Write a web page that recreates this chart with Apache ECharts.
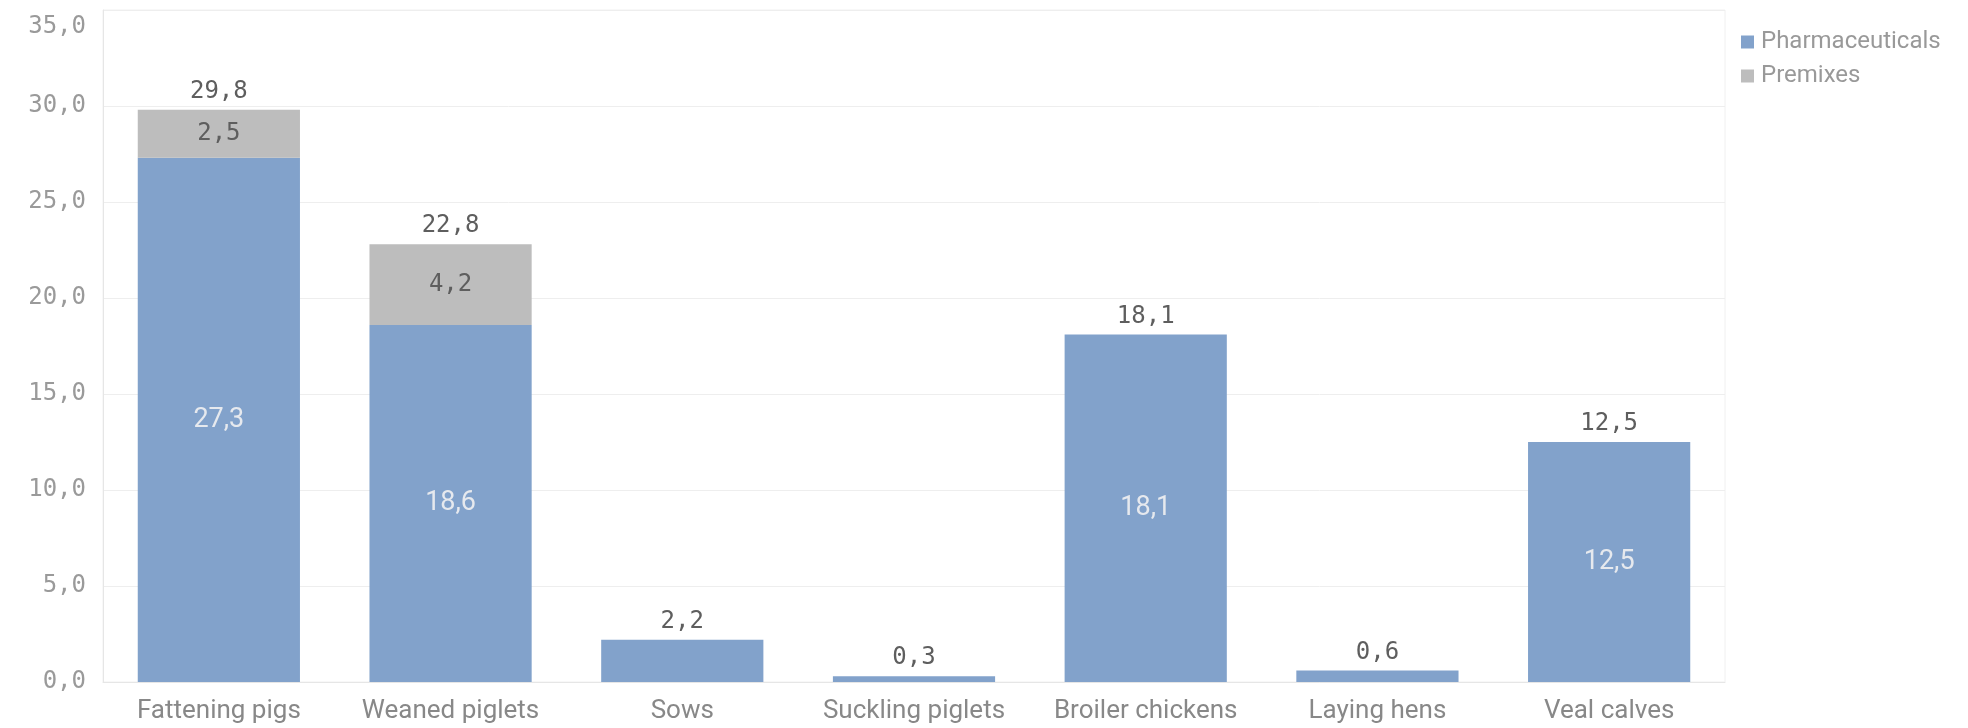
<!DOCTYPE html>
<html>
<head>
<meta charset="utf-8">
<script src="https://cdn.jsdelivr.net/npm/echarts@6/dist/echarts.min.js"></script>
<style>
  html, body { margin: 0; padding: 0; background: #fff; }
  #main { width: 1968px; height: 728px; }
</style>
</head>
<body>
<div id="main"></div>
<script>
var categories = ["Fattening pigs", "Weaned piglets", "Sows", "Suckling piglets", "Broiler chickens", "Laying hens", "Veal calves"];
var pharmaceuticals = [27.3, 18.6, 2.2, 0.3, 18.1, 0.6, 12.5];
var premixes = [2.5, 4.2, 0, 0, 0, 0, 0];
var totals = [29.8, 22.8, 2.2, 0.3, 18.1, 0.6, 12.5];

var numFont = "DejaVu Sans Mono";
var textFont = "Roboto";
var yMax = 35;

function fmt(v) {
  return v.toFixed(1).replace(".", ",");
}

var myChart = echarts.init(document.getElementById("main"));

var option = {
  animation: false,
  grid: {
    left: 103, right: 243, top: 10, bottom: 46,
    show: true, borderColor: "#f0f0f0", borderWidth: 1
  },
  legend: {
    data: ["Pharmaceuticals", "Premixes"],
    orient: "vertical",
    left: 1736, top: 25,
    itemWidth: 13, itemHeight: 13, itemGap: 10,
    icon: "rect",
    textStyle: { fontFamily: textFont, fontSize: 24, color: "#999999", padding: [0, 0, 0, 2] }
  },
  xAxis: {
    type: "category",
    data: categories,
    axisLine: { lineStyle: { color: "#e6e6e6" } },
    axisTick: { show: false },
    axisLabel: { fontFamily: textFont, fontSize: 26, color: "#888888", margin: 16, interval: 0 }
  },
  yAxis: {
    type: "value",
    min: 0, max: yMax, interval: 5,
    axisLine: { show: true, lineStyle: { color: "#e6e6e6" } },
    splitLine: { lineStyle: { color: "#eeeeee" } },
    axisLabel: {
      fontFamily: numFont, fontSize: 24, color: "#9a9a9a", margin: 17,
      formatter: function (v) {
        // top label sits just inside the plot, like the original
        return v === yMax ? "{t|" + fmt(v) + "}" : fmt(v);
      },
      rich: {
        t: { fontFamily: numFont, fontSize: 24, color: "#9a9a9a", padding: [34, 0, 0, 0] }
      }
    }
  },
  series: [
    {
      name: "Pharmaceuticals",
      type: "bar",
      stack: "s",
      barCategoryGap: "30%",
      data: pharmaceuticals,
      itemStyle: { color: "#82a2cb" },
      label: {
        show: true, position: "inside",
        fontFamily: textFont, fontSize: 27, color: "#e6e9ee",
        formatter: function (p) { return p.value >= 2.5 ? fmt(p.value) : ""; }
      }
    },
    {
      name: "Premixes",
      type: "bar",
      stack: "s",
      data: premixes,
      itemStyle: { color: "#bdbdbd" },
      label: {
        show: true, position: "inside",
        fontFamily: numFont, fontSize: 24, color: "#5e5e5e",
        formatter: function (p) { return p.value > 0 ? fmt(p.value) : ""; }
      }
    },
    {
      name: "Total",
      type: "bar",
      barGap: "-100%",
      data: totals,
      z: 1,
      silent: true,
      itemStyle: { color: "rgba(0,0,0,0)" },
      label: {
        show: true, position: "top", distance: 6,
        fontFamily: numFont, fontSize: 24, color: "#5e5e5e",
        formatter: function (p) { return fmt(p.value); }
      }
    }
  ]
};

myChart.setOption(option);
</script>
</body>
</html>
